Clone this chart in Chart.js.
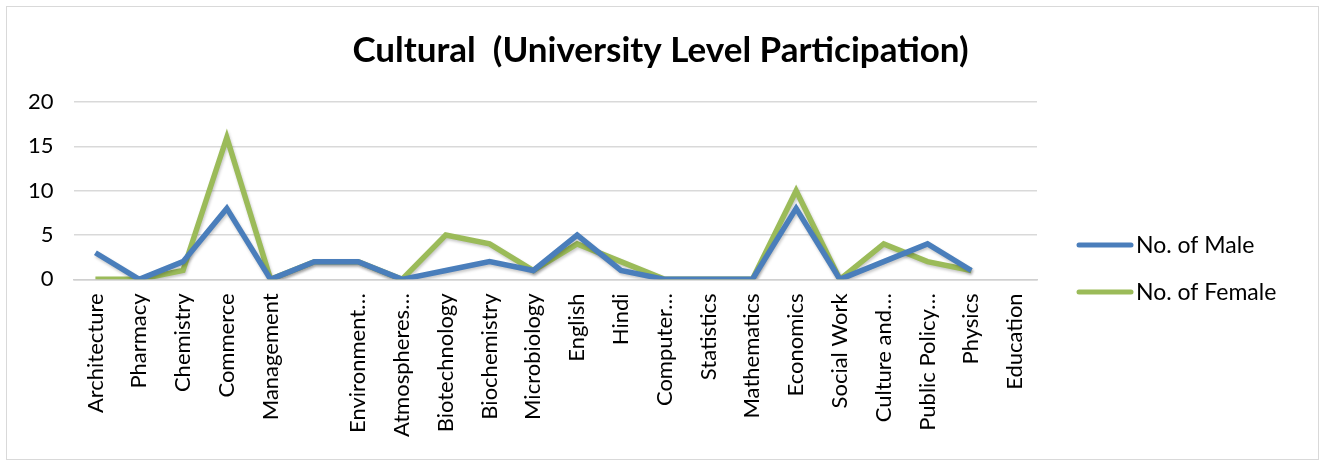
<!DOCTYPE html>
<html>
<head>
<meta charset="utf-8">
<script src="https://cdn.jsdelivr.net/npm/chart.js@4.4.1/dist/chart.umd.min.js"></script>
<style>
  body { margin: 0; background: #fff; }
  #wrap { position: relative; width: 1321px; height: 461px; }
  #frame { position: absolute; left: 6px; top: 6px; width: 1311px; height: 452px; border: 1px solid #d9d9d9; }
</style>
</head>
<body>
<div id="wrap">
  <div id="frame"></div>
  <canvas id="cultural"></canvas>
</div>
<script>
const chartTitle = 'Cultural  (University Level Participation)';
const departments = [
  'Architecture', 'Pharmacy', 'Chemistry', 'Commerce', 'Management', '',
  'Environment\u2026', 'Atmospheres\u2026', 'Biotechnology', 'Biochemistry', 'Microbiology',
  'English', 'Hindi', 'Computer\u2026', 'Statistics', 'Mathematics', 'Economics',
  'Social Work', 'Culture and\u2026', 'Public Policy\u2026', 'Physics', 'Education'
];
const maleCounts =   [3, 0, 2, 8, 0, 2, 2, 0, 1, 2, 1, 5, 1, 0, 0, 0, 8, 0, 2, 4, 1, null];
const femaleCounts = [0, 0, 1, 16, 0, 2, 2, 0, 5, 4, 1, 4, 2, 0, 0, 0, 10, 0, 4, 2, 1, null];
const yTicks = [0, 5, 10, 15, 20];

const FONT = 'Lato, "Liberation Sans", sans-serif';

// soft shadow under the lines, like the office export
const lineShadow = {
  id: 'lineShadow',
  beforeDatasetsDraw(chart) {
    const c = chart.ctx;
    c.save();
    c.shadowColor = 'rgba(0,0,0,0.22)';
    c.shadowBlur = 3;
    c.shadowOffsetX = 1;
    c.shadowOffsetY = 2;
  },
  afterDatasetsDraw(chart) {
    chart.ctx.restore();
  }
};

// title + legend drawn by hand: the title is centred on the whole picture,
// the legend sits to the right of the plot
const frameText = {
  id: 'frameText',
  afterDraw(chart) {
    const c = chart.ctx;
    c.save();
    c.fillStyle = '#000';
    c.font = 'bold 35px ' + FONT;
    c.textAlign = 'center';
    c.textBaseline = 'middle';
    c.fillText(chartTitle, chart.width / 2, 51);

    c.font = '23px ' + FONT;
    c.textAlign = 'left';
    chart.data.datasets.forEach((ds, i) => {
      const y = 245 + i * 47;
      c.strokeStyle = ds.borderColor;
      c.lineWidth = 5;
      c.lineCap = 'round';
      c.beginPath();
      c.moveTo(1079, y);
      c.lineTo(1131, y);
      c.stroke();
      c.fillText(ds.label, 1136, y + 1);
    });
    c.restore();
  }
};

const ctx = document.getElementById('cultural');
new Chart(ctx, {
  type: 'line',
  data: {
    labels: departments,
    datasets: [
      {
        label: 'No. of Male',
        data: maleCounts,
        borderColor: '#4A7EBB',
        borderWidth: 5.5,
        pointRadius: 0,
        tension: 0
      },
      {
        label: 'No. of Female',
        data: femaleCounts,
        borderColor: '#9BBB59',
        borderWidth: 5.5,
        pointRadius: 0,
        tension: 0
      }
    ]
  },
  plugins: [lineShadow, frameText],
  options: {
    responsive: true,
    maintainAspectRatio: false,
    animation: false,
    layout: {
      padding: { top: 102, bottom: 10, left: 8, right: 284 }
    },
    plugins: {
      legend: { display: false },
      tooltip: { enabled: false },
      title: { display: false }
    },
    scales: {
      x: {
        offset: true,
        grid: { display: false, drawTicks: false },
        border: { color: '#d0d0d0', width: 1.5 },
        ticks: {
          autoSkip: false,
          minRotation: 90,
          maxRotation: 90,
          padding: 14,
          color: '#000',
          font: { family: FONT, size: 22 }
        }
      },
      y: {
        min: 0,
        max: 20,
        afterBuildTicks(axis) {
          axis.ticks = yTicks.map(v => ({ value: v }));
        },
        grid: { color: '#d9d9d9', lineWidth: 1.5, drawTicks: false },
        border: { display: false },
        ticks: {
          padding: 20,
          color: '#000',
          font: { family: FONT, size: 22 }
        }
      }
    }
  }
});
</script>
</body>
</html>
